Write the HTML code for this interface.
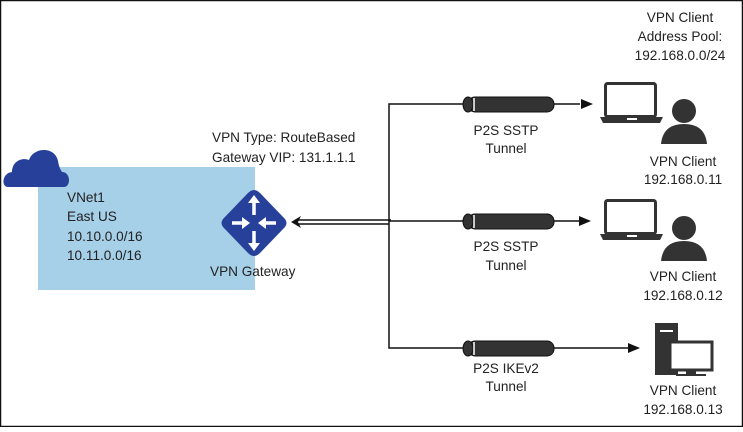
<!DOCTYPE html>
<html><head><style>
body{margin:0;background:#fff}
svg text{font-family:"Liberation Sans",sans-serif;font-size:13.6px;fill:#222}
</style></head><body>
<svg width="743" height="427" viewBox="0 0 743 427" xmlns="http://www.w3.org/2000/svg">
<rect x="0.5" y="0.5" width="742" height="426" fill="#fff" stroke="#111" stroke-width="1.5"/>
<rect x="38" y="167" width="217" height="123" fill="#a6cfe8"/>
<!-- cloud -->
<path d="M8,187 C1,187 2,173 12,172 C12,162 21,157 29,160 C33,147 55,146 58,161 C59,168 61,170 62,172 C71,172 71,187 64,187 Z" fill="#27409a"/>
<text x="67" y="202">VNet1</text>
<text x="67" y="221">East US</text>
<text x="67" y="241">10.10.0.0/16</text>
<text x="67" y="260">10.11.0.0/16</text>
<text x="212" y="142">VPN Type: RouteBased</text>
<text x="212" y="162">Gateway VIP: 131.1.1.1</text>
<!-- diamond -->
<path d="M254,190 Q257,190 260,193 L285,219 Q288,223 285,227 L260,253 Q254,259 248,253 L223,227 Q220,223 223,219 L248,193 Q251,190 254,190Z" fill="#27409a"/>
<g stroke="#fff" stroke-width="3.5" fill="#fff">
<line x1="254" y1="200" x2="254" y2="215"/><line x1="254" y1="231" x2="254" y2="246"/>
<line x1="232" y1="223" x2="245" y2="223"/><line x1="263" y1="223" x2="276" y2="223"/>
</g>
<g fill="#fff">
<path d="M254,195 l-6,8 h12z"/><path d="M254,251 l-6,-8 h12z"/>
<path d="M250,223 l-8,-6 v12z"/><path d="M258,223 l8,-6 v12z"/>
</g>
<text x="210" y="276">VPN Gateway</text>
<!-- connectors -->
<g stroke="#111" stroke-width="1.5" fill="none">
<line x1="296" y1="220" x2="391" y2="220"/>
<line x1="296" y1="224" x2="389" y2="224"/>
<polyline points="580,104 389,104 389,348 628,348"/>
<line x1="389" y1="221" x2="580" y2="221"/>
</g>
<path d="M291,222 l10,-6 l-3,6 l3,6z" fill="#111"/>
<path d="M593,104 l-12,-5 v10z" fill="#111"/>
<path d="M591,221 l-12,-5 v10z" fill="#111"/>
<path d="M640,348 l-12,-5 v10z" fill="#111"/>
<!-- tunnels -->
<g fill="#333" stroke="#111" stroke-width="1">
<rect x="468" y="97" width="86" height="15" rx="7"/><ellipse cx="468" cy="104.5" rx="5" ry="7.5"/>
<rect x="468" y="214" width="86" height="15" rx="7"/><ellipse cx="468" cy="221.5" rx="5" ry="7.5"/>
<rect x="468" y="341" width="86" height="15" rx="7"/><ellipse cx="468" cy="348.5" rx="5" ry="7.5"/>
</g>
<g stroke="#fff" stroke-width="1.5"><line x1="474" y1="98" x2="474" y2="111"/><line x1="474" y1="215" x2="474" y2="228"/><line x1="474" y1="342" x2="474" y2="355"/></g>
<g text-anchor="middle">
<text x="506" y="135">P2S SSTP</text><text x="506" y="153">Tunnel</text>
<text x="506" y="251">P2S SSTP</text><text x="506" y="270">Tunnel</text>
<text x="506" y="373">P2S IKEv2</text><text x="506" y="391">Tunnel</text>
<text x="680" y="22">VPN Client</text><text x="680" y="41">Address Pool:</text><text x="680" y="60">192.168.0.0/24</text>
<text x="683" y="166">VPN Client</text><text x="683" y="184">192.168.0.11</text>
<text x="683" y="281">VPN Client</text><text x="683" y="300">192.168.0.12</text>
<text x="683" y="395">VPN Client</text><text x="683" y="414">192.168.0.13</text>
</g>
<!-- laptops + persons -->
<g id="c1">
<rect x="605.5" y="83.5" width="50" height="33" rx="2" fill="none" stroke="#333" stroke-width="3"/>
<path d="M600,117 H663 L660,123 H603Z" fill="#333"/>
<rect x="627" y="118" width="10" height="2" fill="#fff"/>
<circle cx="684" cy="111" r="12" fill="#333"/>
<path d="M661,144 Q663,124 684,124 Q705,124 707,144Z" fill="#333"/>
</g>
<use href="#c1" transform="translate(0,117)"/>
<!-- desktop -->
<rect x="655" y="323" width="23" height="52" fill="#333"/>
<rect x="660" y="330" width="13" height="2" fill="#fff"/>
<rect x="670" y="342" width="42" height="28" fill="#fff" stroke="#333" stroke-width="3"/>
<rect x="686" y="371" width="10" height="4" fill="#333"/>
<rect x="676" y="374" width="30" height="2" fill="#333"/>
</svg>
</body></html>
